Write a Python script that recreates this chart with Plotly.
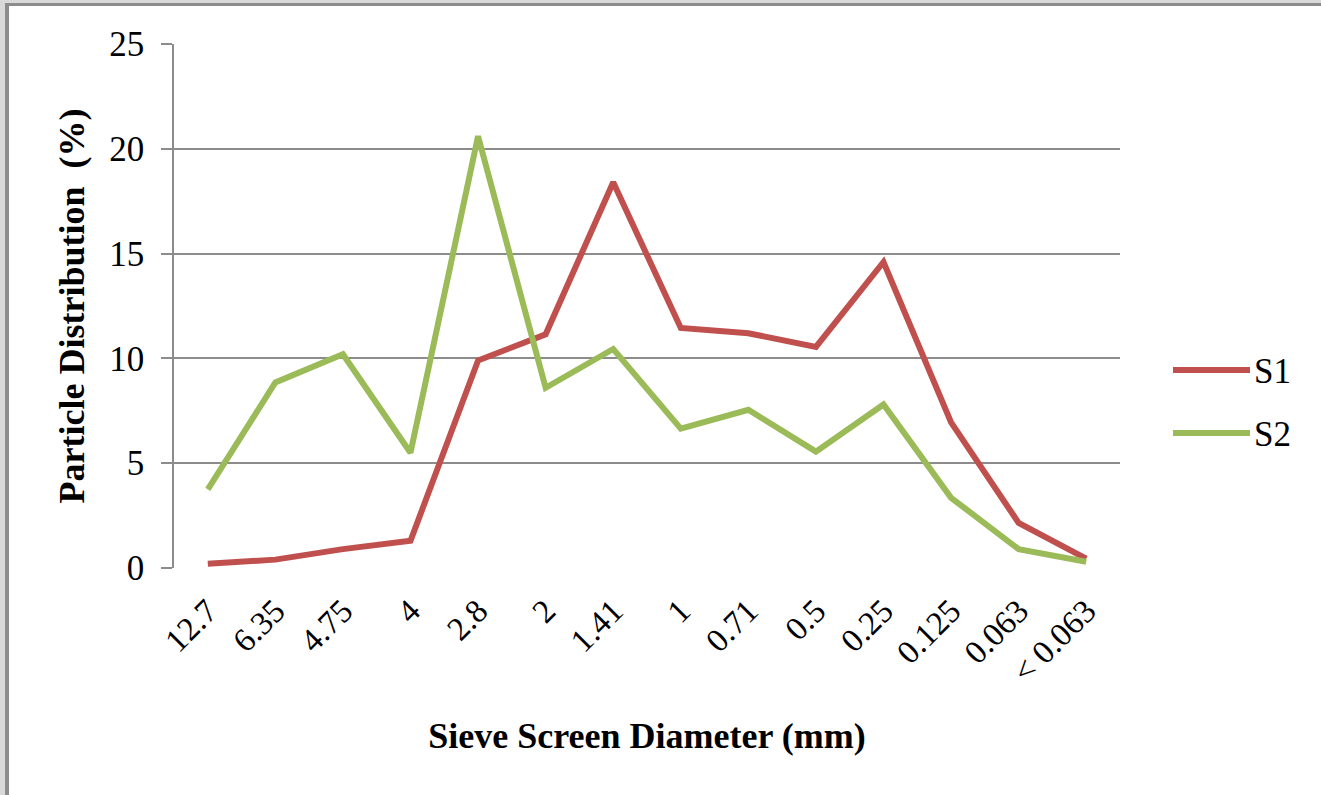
import plotly.graph_objects as go

# Sieve sizes (mm) and the share of particles retained on each screen (%)
sieve_sizes = ["12.7", "6.35", "4.75", "4", "2.8", "2", "1.41", "1",
               "0.71", "0.5", "0.25", "0.125", "0.063", "< 0.063"]
s1_values = [0.2, 0.4, 0.9, 1.3, 9.9, 11.15, 18.4, 11.45,
             11.2, 10.55, 14.6, 6.95, 2.15, 0.45]
s2_values = [3.75, 8.85, 10.2, 5.5, 20.6, 8.6, 10.45, 6.65,
             7.55, 5.55, 7.8, 3.35, 0.9, 0.3]
series_names = ["S1", "S2"]
series_colors = ["#C0504D", "#9BBB59"]

W, H = 1321, 795
L, R, T, B = 174, 201, 44, 227
plot_w = W - L - R
plot_h = H - T - B


def px_x(px):
    return (px - L) / plot_w


def px_y(py):
    return (H - B - py) / plot_h


FONT = "Liberation Serif, Times New Roman, serif"

fig = go.Figure()
for name, vals, col in zip(series_names, [s1_values, s2_values], series_colors):
    fig.add_trace(go.Scatter(
        x=list(range(len(sieve_sizes))), y=vals, name=name, mode="lines",
        line=dict(color=col, width=6), showlegend=False,
    ))

shapes = []
annotations = []

# Legend drawn by hand so the sample lines are as long as the original style
legend_y = [370, 433]
for name, col, ly in zip(series_names, series_colors, legend_y):
    shapes.append(dict(type="line", xref="paper", yref="paper",
                       x0=px_x(1173), x1=px_x(1250), y0=px_y(ly), y1=px_y(ly),
                       line=dict(color=col, width=6)))
    annotations.append(dict(text=name, xref="paper", yref="paper",
                            x=px_x(1252), y=px_y(ly + 1), xanchor="left", yanchor="middle",
                            showarrow=False, font=dict(family=FONT, size=35, color="black")))

# Window frame along the left and top edges
shapes += [
    dict(type="rect", xref="paper", yref="paper", x0=px_x(0), x1=px_x(5),
         y0=px_y(H), y1=px_y(0), fillcolor="#D9D9D9", line=dict(width=0), layer="above"),
    dict(type="rect", xref="paper", yref="paper", x0=px_x(5), x1=px_x(9),
         y0=px_y(H), y1=px_y(3), fillcolor="#8C8C8C", line=dict(width=0), layer="above"),
    dict(type="rect", xref="paper", yref="paper", x0=px_x(0), x1=px_x(W),
         y0=px_y(3), y1=px_y(0), fillcolor="#D9D9D9", line=dict(width=0), layer="above"),
    dict(type="rect", xref="paper", yref="paper", x0=px_x(5), x1=px_x(W),
         y0=px_y(6), y1=px_y(3), fillcolor="#8C8C8C", line=dict(width=0), layer="above"),
]

fig.update_layout(
    width=W, height=H,
    margin=dict(l=L, r=R, t=T, b=B, autoexpand=False),
    paper_bgcolor="white", plot_bgcolor="white",
    font=dict(family=FONT, size=32, color="black"),
    shapes=shapes, annotations=annotations,
    xaxis=dict(
        type="linear", range=[-0.5, len(sieve_sizes) - 0.5],
        tickmode="array", tickvals=list(range(len(sieve_sizes))),
        ticktext=[s.replace("<", "&lt;") for s in sieve_sizes],
        tickangle=-45, ticks="", showgrid=False, zeroline=False, showline=False,
        tickfont=dict(family=FONT, size=33, color="black"),
        ticklabelstandoff=16,
        title=dict(text="<b>Sieve Screen Diameter (mm)</b>", standoff=34,
                   font=dict(family=FONT, size=36, color="black")),
        automargin=False,
    ),
    yaxis=dict(
        range=[0, 25], dtick=5, tick0=0,
        ticks="outside", ticklen=11, tickcolor="#8C8C8C", tickwidth=1.5,
        showline=True, linecolor="#8C8C8C", linewidth=1.5,
        showgrid=True, gridcolor="#8C8C8C", gridwidth=1.5,
        zeroline=False,
        tickfont=dict(family=FONT, size=35, color="black"),
        ticklabelstandoff=10,
        title=dict(text="<b>Particle Distribution  (%)</b>", standoff=14,
                   font=dict(family=FONT, size=36, color="black")),
        automargin=False,
    ),
)

fig.write_html("out.html", config={"displayModeBar": False})
